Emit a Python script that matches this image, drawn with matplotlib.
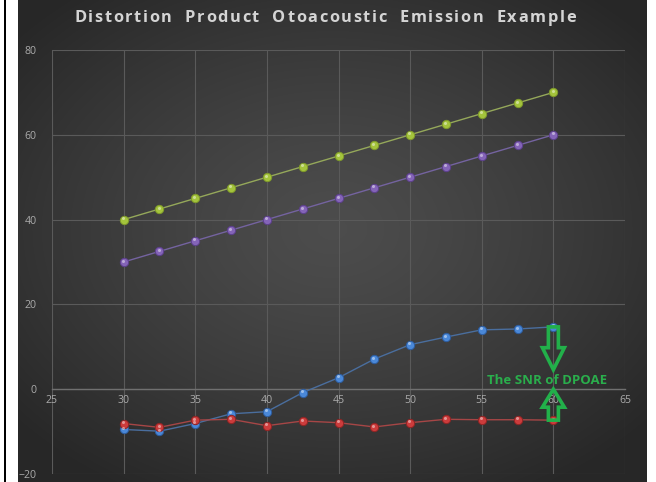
import numpy as np
import matplotlib
matplotlib.use("Agg")
import matplotlib.pyplot as plt
from matplotlib.patches import Polygon, Rectangle
from matplotlib import transforms

# Stimulus levels (dB SPL)
levels = [30, 32.5, 35, 37.5, 40, 42.5, 45, 47.5, 50, 52.5, 55, 57.5, 60]

# Series values (dB)
f2_level = [40, 42.5, 45, 47.5, 50, 52.5, 55, 57.5, 60, 62.5, 65, 67.5, 70]
f1_level = [30, 32.5, 35, 37.5, 40, 42.5, 45, 47.5, 50, 52.5, 55, 57.5, 60]
dpoae = [-9.5, -9.9, -8.1, -5.8, -5.3, -0.8, 2.7, 7.1, 10.5, 12.3, 14.0, 14.2, 14.7]
noise = [-8.1, -9.0, -7.3, -7.1, -8.6, -7.5, -7.9, -8.9, -7.9, -7.1, -7.2, -7.2, -7.3]

x_ticks = [25, 30, 35, 40, 45, 50, 55, 60, 65]
y_ticks = [-20, 0, 20, 40, 60, 80]

title = "Distortion  Product  Otoacoustic  Emission  Example"
snr_label = "The SNR of DPOAE"

W, H = 656, 482
fig = plt.figure(figsize=(W / 100, H / 100), dpi=100)
fig.patch.set_facecolor("white")

# dark radial-gradient backdrop
bg = fig.add_axes([18 / W, 0, (647 - 18) / W, 1])
bg.set_axis_off()
gx, gy = np.meshgrid(np.linspace(-1, 1, 400), np.linspace(-1, 1, 300))
r = np.sqrt((gx / 1.05) ** 2 + ((gy + 0.05) / 1.0) ** 2)
r = np.clip(r, 0, 1.25)
lo, hi = 0.155, 0.30
shade = hi - (hi - lo) * (r / 1.25) ** 1.3
img = np.dstack([shade, shade, shade])
bg.imshow(img, aspect="auto", extent=[0, 1, 0, 1], interpolation="bilinear")
bg.set_xlim(0, 1)
bg.set_ylim(0, 1)

# thin black frame line on the left
fig.add_artist(Rectangle((4 / W, 0), 2 / W, 1, transform=fig.transFigure,
                         facecolor="black", edgecolor="none", zorder=5))

ax = fig.add_axes([52 / W, 1 - 474 / H, (625 - 52) / W, (474 - 50) / H])
ax.set_facecolor("none")
ax.set_xlim(25, 65)
ax.set_ylim(-20, 80)
ax.set_xticks(x_ticks)
ax.set_yticks(y_ticks)
ax.grid(True, color="#5a5a5a", linewidth=0.8)
ax.set_axisbelow(True)
for side in ["top", "right", "left"]:
    ax.spines[side].set_visible(False)
ax.spines["bottom"].set_position(("data", 0))
ax.spines["bottom"].set_color("#707070")
ax.spines["bottom"].set_linewidth(1.0)
ax.tick_params(axis="both", length=0, colors="#ababab", labelsize=7.6)
ax.tick_params(axis="x", pad=4)
ax.tick_params(axis="y", pad=11)
for lab in ax.get_xticklabels() + ax.get_yticklabels():
    lab.set_fontfamily("Open Sans")

series = [
    (f2_level, "#a4c43c", "#7f9a2a", "#95a85a"),
    (f1_level, "#8464b8", "#5c3f8c", "#7463a0"),
    (dpoae, "#4a88d8", "#2d5c9e", "#4a6e9e"),
    (noise, "#cc3c3c", "#8e2424", "#a64646"),
]
hl_offset = transforms.ScaledTranslation(-0.6 / 72, 1.0 / 72, fig.dpi_scale_trans)
for vals, face, edge, line in series:
    ax.plot(levels, vals, color=line, linewidth=1.0, zorder=3)
    ax.plot(levels, vals, linestyle="none", marker="o", markersize=6.0,
            markerfacecolor=face, markeredgecolor=edge, markeredgewidth=0.7, zorder=4)
    ax.plot(levels, vals, linestyle="none", marker="o", markersize=2.2,
            markerfacecolor="white", markeredgecolor="none", alpha=0.45,
            transform=ax.transData + hl_offset, zorder=5)

# letter-spaced title, laid out glyph by glyph
renderer = fig.canvas.get_renderer()
title_kw = dict(fontsize=11.8, fontweight="bold", color="#d4d4d4",
                fontfamily="Open Sans", va="center", ha="left")
tracking = 1.6  # extra pixels between glyphs
widths = []
for ch in title:
    t = fig.text(0, 0, ch if ch != " " else "a", **title_kw)
    w = t.get_window_extent(renderer).width
    if ch == " ":
        sp = fig.text(0, 0, "a a", **title_kw).get_window_extent(renderer).width
        w = sp - 2 * w
        fig.texts[-1].remove()
    t.remove()
    widths.append(w)
total = sum(widths) + tracking * (len(title) - 1)
x0 = 325 - total / 2
y_title = H - 18
cx = x0
for ch, w in zip(title, widths):
    if ch != " ":
        fig.text(cx / W, y_title / H, ch, **title_kw)
    cx += w + tracking


def hollow_arrow(x, y_tail, y_tip, head_px, shaft_half_px, head_half_px):
    """Outlined block arrow anchored in data coordinates, sized in pixels."""
    tx, ty = ax.transData.transform((x, y_tail))
    px, py = ax.transData.transform((x, y_tip))
    d = np.sign(py - ty)
    hb = py - d * head_px
    pts = [
        (tx - shaft_half_px, ty), (tx + shaft_half_px, ty),
        (tx + shaft_half_px, hb), (tx + head_half_px, hb),
        (px, py),
        (tx - head_half_px, hb), (tx - shaft_half_px, hb),
    ]
    poly = Polygon(pts, closed=True, transform=None, facecolor="none",
                   edgecolor="#22b04a", linewidth=2.6, joinstyle="miter", zorder=6)
    fig.add_artist(poly)


x_snr = levels[-1]
y_text = 2.0
hollow_arrow(x_snr, dpoae[-1], 4.6, 22, 5, 11)
hollow_arrow(x_snr, noise[-1], 0.0, 18, 5, 11)
ax.text(x_snr - 0.45, y_text, snr_label, ha="center", va="center", fontsize=9.5,
        fontweight="bold", color="#2aae4c", fontfamily="Open Sans", zorder=7)

fig.savefig("out.png", dpi=100, facecolor=fig.get_facecolor())
